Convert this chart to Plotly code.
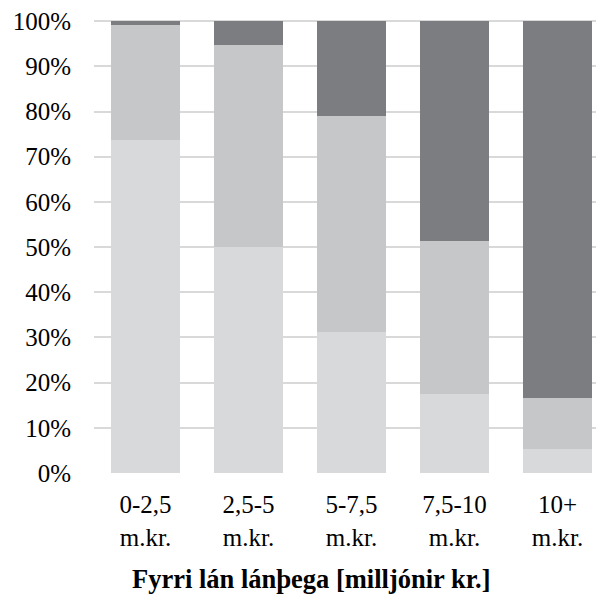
import plotly.graph_objects as go

categories = ["0-2,5<br>m.kr.", "2,5-5<br>m.kr.", "5-7,5<br>m.kr.", "7,5-10<br>m.kr.", "10+<br>m.kr."]
share_low = [73.6, 50.0, 31.2, 17.4, 5.3]
share_mid = [25.5, 44.7, 47.7, 34.0, 11.3]
share_high = [0.9, 5.3, 21.1, 48.6, 83.4]
y_ticks = list(range(0, 101, 10))
y_ticktext = [f"{v}%" for v in y_ticks]
x_title = "Fyrri lán lánþega [milljónir kr.]"

font_family = "Liberation Serif, Times New Roman, serif"

fig = go.Figure()
# stacked from bottom: light, mid, dark grey
fig.add_trace(go.Bar(x=categories, y=share_low, marker_color="#d8d9db", marker_line_width=0, name="low"))
fig.add_trace(go.Bar(x=categories, y=share_mid, marker_color="#c6c7c9", marker_line_width=0, name="mid"))
fig.add_trace(go.Bar(x=categories, y=share_high, marker_color="#7c7d81", marker_line_width=0, name="high"))

fig.add_annotation(
    text="<b>" + x_title + "</b>", xref="paper", yref="paper",
    x=0.4255, y=-0.233, xanchor="center", yanchor="middle", showarrow=False,
    font=dict(family=font_family, size=26.5, color="#000000"),
)

fig.update_layout(
    barmode="stack", bargap=0.335, showlegend=False,
    width=596, height=587,
    margin=dict(l=86, r=0, t=9, b=122),
    paper_bgcolor="white", plot_bgcolor="white",
    font=dict(family=font_family, size=25, color="#000000"),
    xaxis=dict(range=[-0.5, 4.4515], showgrid=False, showline=False, zeroline=False,
               ticks="", ticklabelstandoff=14, tickfont=dict(size=25)),
    yaxis=dict(range=[0, 100.25], tickmode="array", tickvals=y_ticks, ticktext=y_ticktext,
               showgrid=True, gridcolor="#d9d9d9", gridwidth=2, zeroline=False,
               showline=False, ticks="", ticklabelstandoff=22, ticklabeloverflow="allow",
               tickfont=dict(size=25)),
)

fig.write_html("out.html")
